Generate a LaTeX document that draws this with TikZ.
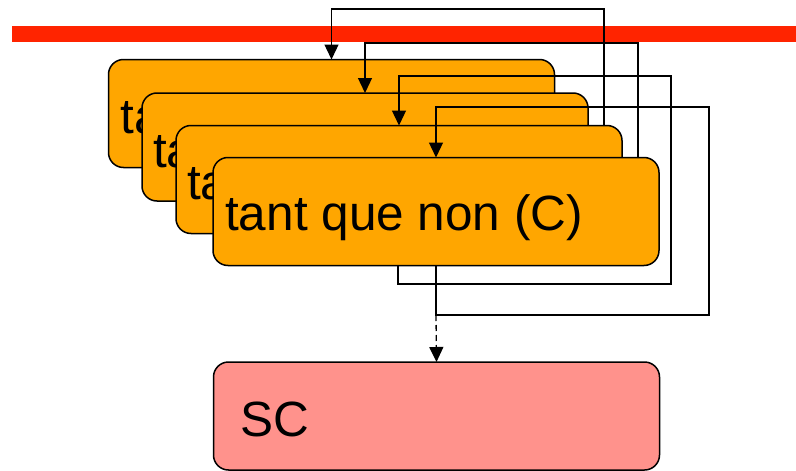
\documentclass[tikz,border=0pt]{standalone}
\usepackage{fontspec}
\setmainfont{Liberation Sans}
\usetikzlibrary{arrows.meta}
\definecolor{boxorange}{RGB}{255,166,0}
\definecolor{scpink}{RGB}{255,146,140}
\definecolor{barred}{RGB}{255,36,0}
\pgfdeclarelayer{barlayer}
\pgfdeclarelayer{layone}
\pgfdeclarelayer{arrone}
\pgfdeclarelayer{laytwo}
\pgfdeclarelayer{arrtwo}
\pgfdeclarelayer{laythree}
\pgfdeclarelayer{arrthree}
\pgfsetlayers{barlayer,layone,arrone,laytwo,arrtwo,laythree,arrthree,main}
\begin{document}
\begin{tikzpicture}[x=1pt,y=-1pt,
  box/.style={draw=black, line width=1.5pt, rounded corners=15pt, minimum width=446pt, minimum height=108pt, inner sep=0pt, outer sep=0pt},
  loopbox/.style={box, fill=boxorange},
  scbox/.style={box, fill=scpink},
  lbl/.style={anchor=base west, inner sep=0pt, font=\fontsize{49.5}{59}\selectfont},
  conn/.style={line width=1.3pt},
  arr/.style={conn, -{Triangle[length=15pt,width=14pt]}},
  dasharr/.style={arr, dash pattern=on 6pt off 4pt},
]
\useasboundingbox (0,0) rectangle (796,471);
% red bar
\begin{pgfonlayer}{barlayer}
\fill[barred] (12,26) rectangle (796,42);
\end{pgfonlayer}
% boxes
\begin{pgfonlayer}{layone}
\node[loopbox] (box1) at (331.5,113.5) {};
\node[lbl] (t1) at ([xshift=12pt,yshift=-74pt]box1.north west) {tant que non (C)};
\end{pgfonlayer}
\begin{pgfonlayer}{laytwo}
\node[loopbox] (box2) at (365,147) {};
\node[lbl] (t2) at ([xshift=11pt,yshift=-74pt]box2.north west) {tant que non (C)};
\end{pgfonlayer}
\begin{pgfonlayer}{laythree}
\node[loopbox] (box3) at (399,179.5) {};
\node[lbl] (t3) at ([xshift=11pt,yshift=-74pt]box3.north west) {tant que non (C)};
\end{pgfonlayer}
\node[loopbox] (box4) at (436,211.5) {};
\node[lbl] (t4) at ([xshift=12pt,yshift=-73pt]box4.north west) {tant que non (C)};
\node[scbox] (sc) at (436.5,416) {};
\node[lbl] (tsc) at ([xshift=27pt,yshift=-74pt]sc.north west) {SC};
% loop corners
\coordinate (r1) at (604,9);
\coordinate (r2) at (638,43);
\coordinate (r3) at (671,76);
\coordinate (r4) at (709,107);
\coordinate (b3) at (398,284);
\coordinate (b4) at (box4.south |- 0,315);
% loops
\begin{pgfonlayer}{arrone}
\draw[arr] (box3.north -| r1) -- (r1) -| (box1.north);
\draw[arr] (box4.north -| r2) -- (r2) -| (box2.north);
\end{pgfonlayer}
\begin{pgfonlayer}{arrtwo}
\draw[arr] (box4.south -| b3) -- (b3) -| (r3) -| (box3.north);
\end{pgfonlayer}
\begin{pgfonlayer}{arrthree}
\draw[arr] (box4.south) -- (b4) -| (r4) -| (box4.north);
\end{pgfonlayer}
\draw[dasharr] (b4) -- (sc.north);
\end{tikzpicture}
\end{document}
